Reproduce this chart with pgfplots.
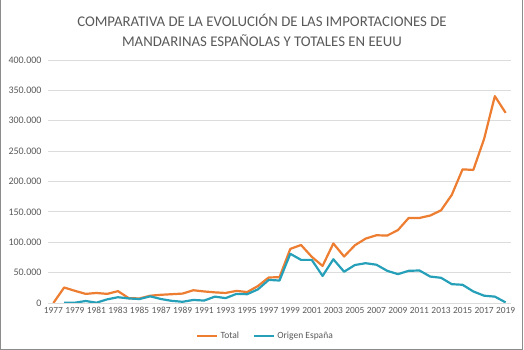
\documentclass[border=0pt]{standalone}
\usepackage{pgfplots}
\pgfplotsset{compat=1.18}
\usepackage{fontspec}
\setmainfont{Carlito}
\definecolor{cOrange}{RGB}{237,125,49}
\definecolor{cBlue}{RGB}{38,160,185}
\definecolor{cText}{RGB}{89,89,89}
\definecolor{cGrid}{RGB}{220,220,220}
\definecolor{cFrame}{RGB}{140,140,140}
\begin{document}
\begin{tikzpicture}[x=1pt,y=1pt]
\useasboundingbox (0,0) rectangle (524,350);
\draw[cFrame,line width=1.2pt] (0.8,350) -- (0.8,0.8) -- (522.8,0.8) -- (522.8,350);
\node[align=center,text=cText,font=\fontsize{14.8}{20}\selectfont] at (262,320) {COMPARATIVA DE LA EVOLUCIÓN DE LAS IMPORTACIONES DE\\MANDARINAS ESPAÑOLAS Y TOTALES EN EEUU};
\begin{axis}[
  at={(48pt,47pt)}, anchor=south west,
  scale only axis, width=463pt, height=243pt,
  xmin=1976.5, xmax=2019.5, ymin=0, ymax=400000,
  scaled y ticks=false,
  xtick={1977,1979,...,2019},
  xticklabels={1977,1979,1981,1983,1985,1987,1989,1991,1993,1995,1997,1999,2001,2003,2005,2007,2009,2011,2013,2015,2017,2019},
  ytick={0,50000,100000,150000,200000,250000,300000,350000,400000},
  yticklabels={0,50.000,100.000,150.000,200.000,250.000,300.000,350.000,400.000},
  axis line style={draw=none},
  tick style={draw=none},
  ymajorgrids, grid style={cGrid,line width=0.8pt},
  yticklabel style={xshift=-3pt,font=\fontsize{10}{12}\selectfont},
  xticklabel style={yshift=-1pt,font=\fontsize{9.4}{12}\selectfont},
  ticklabel style={text=cText},
  legend columns=2,
  legend style={at={(axis description cs:0.47,-0.136)},anchor=center,draw=none,
    font=\fontsize{9.5}{11}\selectfont,text=cText,
    /tikz/every even column/.append style={column sep=12pt}},
  legend image code/.code={\draw[#1] (0pt,0pt) -- (20pt,0pt);},
  every axis plot/.append style={line width=2.2pt, line join=round}
]
\addplot[cOrange] coordinates {
(1977,0) (1978,25500) (1979,20000) (1980,15000) (1981,16500) (1982,15000)
(1983,19500) (1984,8000) (1985,7500) (1986,12000) (1987,13500) (1988,14500)
(1989,15500) (1990,21000) (1991,19000) (1992,17500) (1993,16500) (1994,20000)
(1995,18000) (1996,28000) (1997,42000) (1998,42500) (1999,89000) (2000,95500)
(2001,76000) (2002,61000) (2003,98000) (2004,76500) (2005,95000) (2006,106000)
(2007,111500) (2008,111000) (2009,120000) (2010,140000) (2011,140000) (2012,144000)
(2013,152500) (2014,178000) (2015,220000) (2016,219000) (2017,270000) (2018,340500)
(2019,313000)};
\addlegendentry{Total}
\addplot[cBlue] coordinates {
(1978,500) (1979,500) (1980,3300) (1981,500) (1982,6000)
(1983,9500) (1984,7500) (1985,6500) (1986,11000) (1987,6500) (1988,3500)
(1989,2000) (1990,5000) (1991,4000) (1992,10500) (1993,8000) (1994,15000)
(1995,14500) (1996,22500) (1997,38000) (1998,37000) (1999,81000) (2000,71000)
(2001,71000) (2002,44500) (2003,72000) (2004,51500) (2005,62500) (2006,65500)
(2007,63000) (2008,53000) (2009,47500) (2010,53000) (2011,53500) (2012,43500)
(2013,41500) (2014,31000) (2015,30000) (2016,19000) (2017,12000) (2018,10500)
(2019,1000)};
\addlegendentry{Origen España}
\end{axis}
\end{tikzpicture}
\end{document}
